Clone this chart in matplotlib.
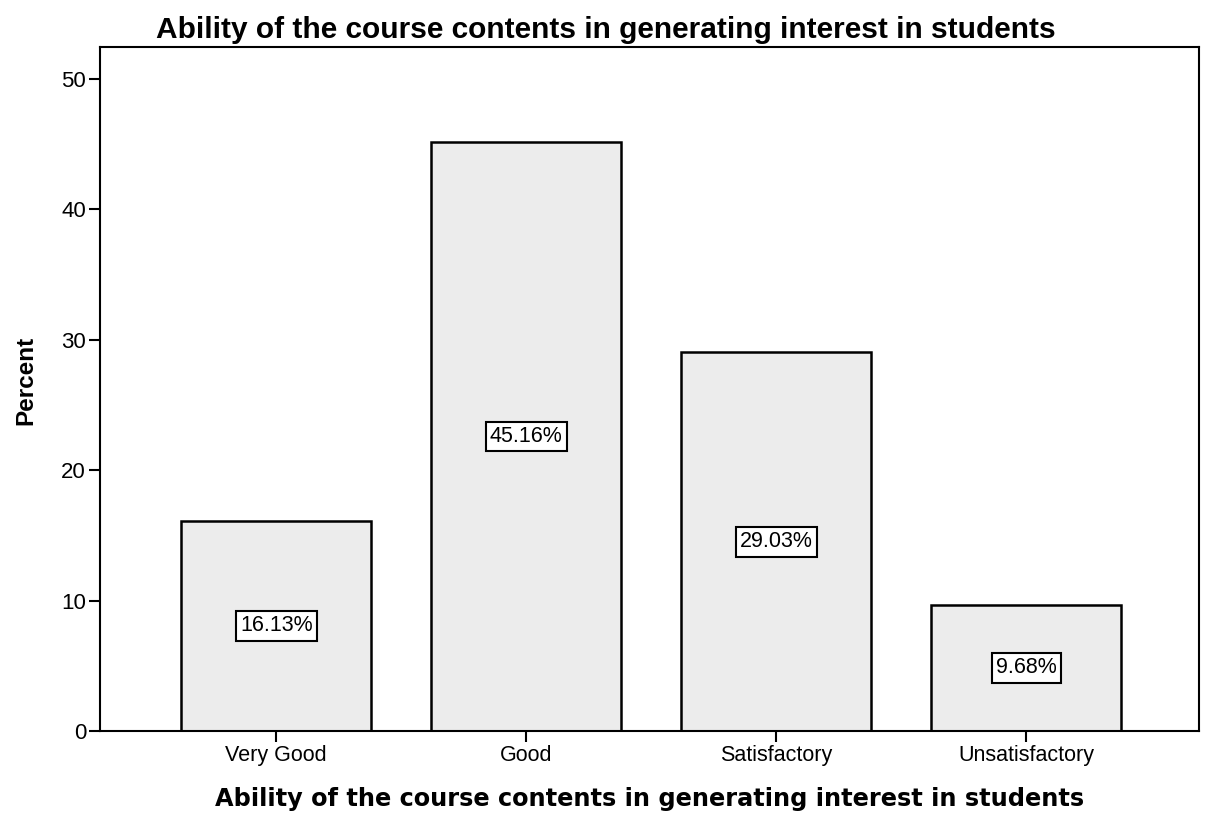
import matplotlib.pyplot as plt
import numpy as np

# data
categories = ["Very Good", "Good", "Satisfactory", "Unsatisfactory"]
percent = [16.13, 45.16, 29.03, 9.68]
title = "Ability of the course contents in generating interest in students"

fig = plt.figure(figsize=(12.14, 8.14), dpi=100)
ax = fig.add_axes([100 / 1214, 1 - 731 / 814, 1099 / 1214, 684 / 814])

x = np.arange(len(categories))
ax.bar(x, percent, width=0.76, color="#ececec", edgecolor="black", linewidth=1.8)

# percentage labels in boxes at mid-height of each bar
for xi, v in zip(x, percent):
    ax.text(xi, v / 2, f"{v:.2f}%", ha="center", va="center",
            family="Liberation Sans", fontsize=15.5,
            bbox=dict(boxstyle="square,pad=0.2", facecolor="white",
                      edgecolor="black", linewidth=1.5))

ax.set_xlim(-0.705, 3.69)
ax.set_ylim(0, 52.45)
ax.set_xticks(x)
ax.set_xticklabels(categories, family="Liberation Sans", fontsize=15.5)
ax.set_yticks([0, 10, 20, 30, 40, 50])
ax.set_yticklabels(["0", "10", "20", "30", "40", "50"], family="Liberation Sans", fontsize=16)
ax.tick_params(axis="both", length=8, width=1.5, color="black", pad=2)
for s in ax.spines.values():
    s.set_linewidth(1.5)

ax.set_ylabel("Percent", family="Liberation Sans", fontweight="bold", fontsize=17.5)
ax.yaxis.set_label_coords(-0.057, 0.512)
ax.set_xlabel(title, family="DejaVu Sans", fontweight="bold", fontsize=17.3, labelpad=15)
fig.text(606 / 1214, 1 - 30 / 814, title, ha="center", va="center",
         family="Liberation Sans", fontweight="bold", fontsize=21.5)

fig.savefig("out.png", dpi=100)
